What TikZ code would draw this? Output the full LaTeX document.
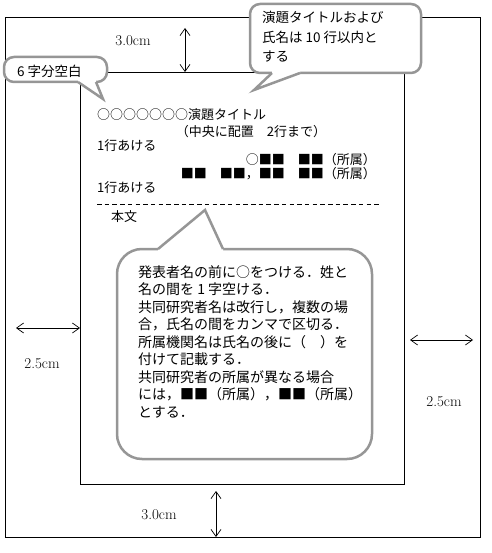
\documentclass[tikz,border=0pt]{standalone}
\usepackage{fontspec}
\newfontfamily\jp{Noto Sans CJK JP}
\usetikzlibrary{positioning, arrows.meta}
\definecolor{balloongray}{RGB}{150,150,150}

\begin{document}
\begin{tikzpicture}[
    x=1pt, y=-1pt,
    page/.style={draw, line width=0.8pt},
    dim/.style={{Straight Barb[length=7pt,width=10pt]}-{Straight Barb[length=7pt,width=10pt]}, line width=0.7pt},
    dimlabel/.style={font=\fontsize{15}{17}\selectfont\addfontfeature{LetterSpace=8}, inner sep=0pt},
    line/.style={font=\jp\fontsize{13}{14.5}\selectfont, inner sep=0pt, anchor=west},
    balloon/.style={draw=balloongray, line width=2.5pt, fill=white, rounded corners=#1},
    balloon/.default=10pt,
    tail/.style={draw=balloongray, line width=2.5pt, line join=miter},
    note/.style={font=\jp\fontsize{13.5}{19.5}\selectfont, align=left, inner sep=0pt, anchor=north west}
]
\useasboundingbox (0,0) rectangle (491,553);

% Paper and text area
\coordinate (paperNW) at (5,17);
\coordinate (paperSE) at (480,537);
\coordinate (areaNW) at (80,72);
\coordinate (areaSE) at (404,484);
\draw[page] (paperNW) rectangle (paperSE);
\draw[page] (areaNW) rectangle (areaSE);

% Margins
\coordinate (topA) at (185,28);
\coordinate (topB) at (185,72);
\coordinate (botA) at (216,491);
\coordinate (botB) at (216,537);
\coordinate (leftA) at (16,328);
\coordinate (leftB) at (80,328);
\coordinate (rightA) at (410,340);
\coordinate (rightB) at (473,340);
\draw[dim] (topA) -- (topB);
\draw[dim] (botA) -- (botB);
\draw[dim] (leftA) -- (leftB);
\draw[dim] (rightA) -- (rightB);
\node[dimlabel] (topcm) at (133,41) {3.0cm};
\node[dimlabel] (botcm) at (159,515) {3.0cm};
\node[dimlabel] (leftcm) at (42,364) {2.5cm};
\node[dimlabel] (rightcm) at (444,402) {2.5cm};

% Title block
\node[line] (title) at (97,115) {○○○○○○○演題タイトル};
\node[line, anchor=center] (place) at (251,132) {（中央に配置　2行まで）};
\node[line] (gap1) at (97,146) {1行あける};
\node[line, anchor=east] (author1) at (376,160) {○■■　■■（所属）};
\node[line, anchor=east] (author2) at (376,174) {■■　■■，■■　■■（所属）};
\node[line] (gap2) at (97,188) {1行あける};
\coordinate (ruleA) at (97,204);
\coordinate (ruleB) at (380,204);
\draw[line width=0.6pt, dash pattern=on 4.5pt off 3.2pt] (ruleA) -- (ruleB);
\node[line] (body) at (111,217) {本文};

% Balloon: 6 characters
\draw[balloon] (4,57) rectangle (107,82);
\fill[white] (78,79) -- (78,82) -- (103,99) -- (96,82) -- (96,79) -- cycle;
\draw[tail] (78,82) -- (103,99) -- (96,82);
\node[note, anchor=west] (indent) at (17,71) {6 字分空白};

% Balloon: title and names
\draw[balloon] (250,4) rectangle (421,73);
\fill[white] (272,70) -- (272,73) -- (254,90) -- (300,73) -- (300,70) -- cycle;
\draw[tail] (272,73) -- (254,90) -- (300,73);
\node[note] (limit) at (262,11) {演題タイトルおよび\\氏名は 10 行以内と\\する};

% Balloon: authors
\draw[balloon=25pt] (117,249) rectangle (372,459);
\fill[white] (158,252) -- (158,249) -- (205,210) -- (223,249) -- (223,252) -- cycle;
\draw[tail] (158,249) -- (205,210) -- (223,249);
\node[note, font=\jp\fontsize{14}{17.5}\selectfont] (rules) at (138,265) {発表者名の前に○をつける．姓と\\名の間を 1 字空ける．\\共同研究者名は改行し，複数の場\\合，氏名の間をカンマで区切る．\\所属機関名は氏名の後に（　）を\\付けて記載する．\\共同研究者の所属が異なる場合\\には，■■（所属），■■（所属）\\とする．};

\end{tikzpicture}
\end{document}
